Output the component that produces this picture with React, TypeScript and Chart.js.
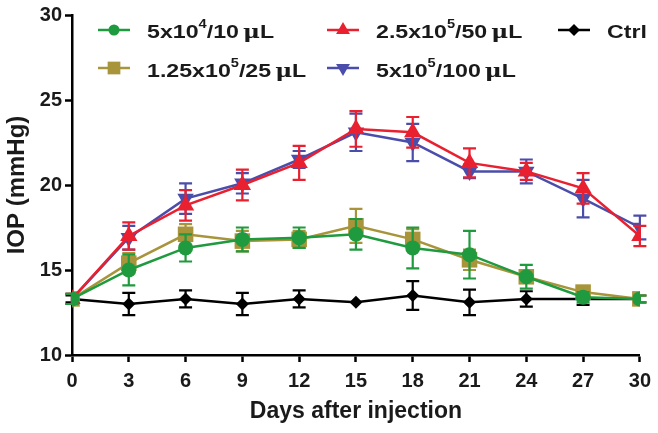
import React, { useEffect, useRef } from 'react';
import { Chart, registerables } from 'chart.js';

Chart.register(...registerables);

const days = [0, 3, 6, 9, 12, 15, 18, 21, 24, 27, 30];
const xTicks = [0, 3, 6, 9, 12, 15, 18, 21, 24, 27, 30];
const yTicks = [10, 15, 20, 25, 30];

const g10Mean = [13.3, 15.0, 16.3, 16.8, 16.9, 17.1, 16.3, 15.9, 14.6, 13.4, 13.3];
const g10Err = [0.3, 0.9, 0.8, 0.7, 0.6, 0.9, 1.2, 1.4, 0.7, 0.3, 0.2];
const g25Mean = [13.3, 15.4, 17.1, 16.7, 16.8, 17.6, 16.8, 15.6, 14.6, 13.7, 13.3];
const g25Err = [0.3, 0.6, 0.6, 0.6, 0.5, 1.0, 0.6, 0.6, 0.3, 0.3, 0.2];
const g50Mean = [13.3, 17.0, 18.8, 20.0, 21.3, 23.3, 23.1, 21.3, 20.8, 19.8, 17.0];
const g50Err = [0.3, 0.8, 0.9, 0.9, 1.0, 1.05, 0.9, 0.85, 0.5, 0.9, 0.6];
const g100Mean = [13.3, 16.9, 19.2, 20.1, 21.5, 23.1, 22.5, 20.8, 20.8, 19.2, 17.5];
const g100Err = [0.3, 0.7, 0.9, 0.6, 0.5, 1.1, 1.1, 0.4, 0.7, 1.1, 0.7];
const ctrlMean = [13.3, 13.0, 13.3, 13.0, 13.3, 13.1, 13.5, 13.1, 13.3, 13.3, 13.3];
const ctrlErr = [0.2, 0.65, 0.5, 0.65, 0.5, 0.0, 0.85, 0.75, 0.45, 0.35, 0.2];

const legendLabels = [
  { base: '5x10', sup: '4', rest: '/10 ', unit: 'μL' },
  { base: '2.5x10', sup: '5', rest: '/50 ', unit: 'μL' },
  { base: '1.25x10', sup: '5', rest: '/25 ', unit: 'μL' },
  { base: '5x10', sup: '5', rest: '/100 ', unit: 'μL' },
  { base: 'Ctrl', sup: '', rest: '', unit: '' },
];

const GREEN = '#1f9a3e';
const RED = '#e8202f';
const OLIVE = '#a8943a';
const BLUE = '#4b4dab';
const BLACK = '#000000';

const FONT = '"Liberation Sans", Arial, sans-serif';
const TEXT = '#1a1a1a';

const errorBarPlugin = {
  id: 'errorBars',
  beforeDatasetDraw(chart: any, args: any) {
    const ds = chart.data.datasets[args.index];
    const errs = ds.errors as number[];
    if (!errs) return;
    const ctx = chart.ctx;
    const xs = chart.scales.x;
    const ys = chart.scales.y;
    ctx.save();
    ctx.strokeStyle = ds.borderColor;
    ctx.lineWidth = 2.2;
    ds.data.forEach((pt: any, i: number) => {
      const e = errs[i];
      if (!e) return;
      const px = xs.getPixelForValue(pt.x);
      const top = ys.getPixelForValue(pt.y + e);
      const bot = ys.getPixelForValue(pt.y - e);
      const cap = 6.5;
      ctx.beginPath();
      ctx.moveTo(px, top);
      ctx.lineTo(px, bot);
      ctx.moveTo(px - cap, top);
      ctx.lineTo(px + cap, top);
      ctx.moveTo(px - cap, bot);
      ctx.lineTo(px + cap, bot);
      ctx.stroke();
    });
    ctx.restore();
  },
};

function drawMarker(ctx: CanvasRenderingContext2D, style: string, x: number, y: number, r: number, color: string) {
  ctx.save();
  ctx.fillStyle = color;
  ctx.beginPath();
  if (style === 'circle') {
    ctx.arc(x, y, r, 0, Math.PI * 2);
  } else if (style === 'rect') {
    const s = Math.SQRT1_2 * r;
    ctx.rect(x - s, y - s, 2 * s, 2 * s);
  } else if (style === 'triangle' || style === 'triangleDown') {
    const rot = style === 'triangleDown' ? Math.PI : 0;
    for (let k = 0; k < 3; k++) {
      const a = rot + (k * 2 * Math.PI) / 3;
      const px = x + Math.sin(a) * r;
      const py = y - Math.cos(a) * r;
      if (k === 0) ctx.moveTo(px, py);
      else ctx.lineTo(px, py);
    }
    ctx.closePath();
  } else if (style === 'rectRot') {
    ctx.moveTo(x, y - r);
    ctx.lineTo(x + r, y);
    ctx.lineTo(x, y + r);
    ctx.lineTo(x - r, y);
    ctx.closePath();
  }
  ctx.fill();
  ctx.restore();
}

const legendPlugin = {
  id: 'customLegend',
  afterDraw(chart: any) {
    const ctx = chart.ctx as CanvasRenderingContext2D;
    const entries = [
      { ds: 0, label: legendLabels[0], x: 98, y: 30, ty: 33, style: 'circle', r: 5.5 },
      { ds: 1, label: legendLabels[1], x: 327, y: 30, ty: 33, style: 'triangle', r: 8 },
      { ds: 4, label: legendLabels[4], x: 558, y: 30, ty: 33, style: 'rectRot', r: 6 },
      { ds: 2, label: legendLabels[2], x: 98, y: 68, ty: 72, style: 'rect', r: 9 },
      { ds: 3, label: legendLabels[3], x: 327, y: 68, ty: 72, style: 'triangleDown', r: 8 },
    ];
    const SX = 1.22;
    ctx.save();
    entries.forEach((e) => {
      const color = chart.data.datasets[e.ds].borderColor;
      ctx.strokeStyle = color;
      ctx.lineWidth = 2.5;
      ctx.beginPath();
      ctx.moveTo(e.x, e.y);
      ctx.lineTo(e.x + 32, e.y);
      ctx.stroke();
      drawMarker(ctx, e.style, e.x + 16, e.y, e.r, color);
      ctx.save();
      ctx.translate(e.x + 49, e.ty);
      ctx.scale(SX, 1);
      let tx = 0;
      ctx.fillStyle = TEXT;
      ctx.textBaseline = 'middle';
      ctx.textAlign = 'left';
      ctx.font = `bold 19px ${FONT}`;
      ctx.fillText(e.label.base, tx, 0);
      tx += ctx.measureText(e.label.base).width;
      if (e.label.sup) {
        ctx.font = `bold 12px ${FONT}`;
        ctx.fillText(e.label.sup, tx, -8);
        tx += ctx.measureText(e.label.sup).width;
      }
      if (e.label.rest) {
        ctx.font = `bold 19px ${FONT}`;
        ctx.fillText(e.label.rest, tx, 0);
        tx += ctx.measureText(e.label.rest).width - 2;
      }
      if (e.label.unit) {
        ctx.font = `bold 19px "DejaVu Serif", serif`;
        ctx.fillText(e.label.unit.charAt(0), tx, 0);
        tx += ctx.measureText(e.label.unit.charAt(0)).width;
        ctx.font = `bold 19px ${FONT}`;
        ctx.fillText(e.label.unit.slice(1), tx, 0);
      }
      ctx.restore();
    });
    ctx.restore();
  },
};

function toPoints(ys: number[]) {
  return days.map((d, i) => ({ x: d, y: ys[i] }));
}

export default function App() {
  const ref = useRef<HTMLCanvasElement | null>(null);
  useEffect(() => {
    document.body.style.margin = '0';
    const canvas = ref.current;
    if (!canvas) return;
    const mk = (label: string, data: number[], errs: number[], color: string, style: string, r: number, rot = 0) => ({
      label,
      data: toPoints(data),
      errors: errs,
      borderColor: color,
      backgroundColor: color,
      pointBackgroundColor: color,
      pointBorderColor: color,
      pointBorderWidth: 0,
      pointStyle: style,
      pointRadius: r,
      pointRotation: rot,
      borderWidth: 2.5,
      tension: 0,
      showLine: true,
    });
    const chart = new Chart(canvas, {
      type: 'scatter',
      data: {
        datasets: [
          mk('5x10^4/10 μL', g10Mean, g10Err, GREEN, 'circle', 7.5),
          mk('2.5x10^5/50 μL', g50Mean, g50Err, RED, 'triangle', 10),
          mk('1.25x10^5/25 μL', g25Mean, g25Err, OLIVE, 'rect', 11),
          mk('5x10^5/100 μL', g100Mean, g100Err, BLUE, 'triangle', 9.5, 180),
          mk('Ctrl', ctrlMean, ctrlErr, BLACK, 'rectRot', 6.5),
        ] as any,
      },
      options: {
        responsive: false,
        animation: false,
        devicePixelRatio: 1,
        layout: { padding: { top: 15, right: 18, left: 0, bottom: 0 } },
        plugins: { legend: { display: false }, tooltip: { enabled: false } },
        scales: {
          x: {
            type: 'linear',
            min: 0,
            max: 30,
            afterBuildTicks: (scale: any) => {
              scale.ticks = xTicks.map((v) => ({ value: v }));
            },
            afterFit: (scale: any) => {
              scale.height = 78;
            },
            border: { display: true, color: '#000', width: 2.5 },
            grid: { display: true, drawOnChartArea: false, drawTicks: true, tickLength: 7, tickWidth: 2.5, tickColor: '#000' },
            ticks: { color: TEXT, font: { family: FONT, size: 20, weight: 'bold' }, padding: 7, maxRotation: 0, autoSkip: false },
            title: {
              display: true,
              text: 'Days after injection',
              color: TEXT,
              font: { family: FONT, size: 23, weight: 'bold' },
              padding: { top: 0, bottom: 8 },
            },
          },
          y: {
            type: 'linear',
            min: 10,
            max: 30,
            afterBuildTicks: (scale: any) => {
              scale.ticks = yTicks.map((v) => ({ value: v }));
            },
            afterFit: (scale: any) => {
              scale.width = 72;
            },
            border: { display: true, color: '#000', width: 2.5 },
            grid: { display: true, drawOnChartArea: false, drawTicks: true, tickLength: 7, tickWidth: 2.5, tickColor: '#000' },
            ticks: { color: TEXT, font: { family: FONT, size: 20, weight: 'bold' }, padding: 3, autoSkip: false },
            title: {
              display: true,
              text: 'IOP (mmHg)',
              color: TEXT,
              font: { family: FONT, size: 24, weight: 'bold' },
              padding: { top: 3, bottom: 0 },
            },
          },
        },
      } as any,
      plugins: [errorBarPlugin, legendPlugin],
    });
    return () => chart.destroy();
  }, []);
  return (
    <div style={{ width: 658, height: 433, position: 'relative' }}>
      <canvas ref={ref} width={658} height={433} style={{ width: 658, height: 433, display: 'block' }} />
    </div>
  );
}
